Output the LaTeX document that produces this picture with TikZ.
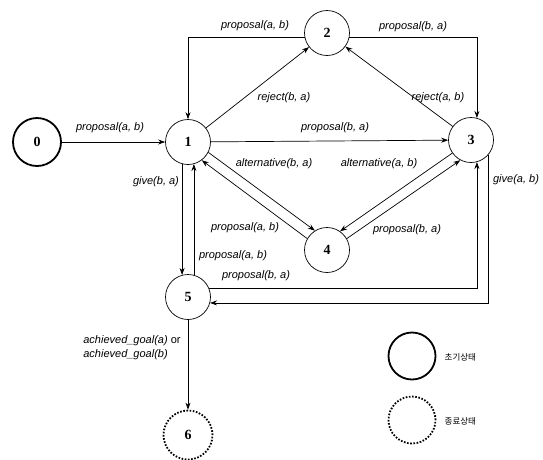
\documentclass[tikz,border=0pt]{standalone}
\usepackage{fontspec}
\setmainfont{Liberation Serif}
\setsansfont{Liberation Sans}
\newfontfamily\krfont{Noto Sans CJK KR}
\usepackage{tikz}
\usetikzlibrary{arrows.meta}

\begin{document}
\begin{tikzpicture}[x=1pt, y=-1pt, line width=0.7pt,
  st/.style={circle, draw, minimum size=45pt, inner sep=0pt, font=\fontsize{14}{14}\selectfont\bfseries},
  init/.style={st, line width=1.8pt, minimum size=48pt},
  final/.style={st, line width=1.8pt, dash pattern=on 1.6pt off 1.6pt, minimum size=49pt},
  lbl/.style={font=\sffamily\itshape\fontsize{11}{14}\selectfont, inner sep=1pt},
  arr/.style={-{Stealth[length=7pt, width=5pt]}}]
  \useasboundingbox (0,0) rectangle (543,459);

  % states
  \node[init] (n0) at (37,142) {0};
  \foreach \nm/\px/\py in {1/188/142, 2/327/33, 3/471/140, 4/327/250, 5/188/297}
    \node[st] (n\nm) at (\px,\py) {\nm};
  \node[final] (n6) at (188,435) {6};

  % transitions
  \draw[arr] (n0) -- (n1);
  \draw[arr] (n2.192) -| (n1.north);
  \draw[arr] (n2.-12) -| (n3.75);
  \draw[arr] (n1) -- (n2);
  \draw[arr] (n3) -- (n2);
  \draw[arr] (n1) -- (n3);
  \draw[arr] (n1.-27) -- (n4.122);
  \draw[arr] (n4.150) -- (n1.-53);
  \draw[arr] (n3.-145) -- (n4.55);
  \draw[arr] (n4.30) -- (n3.-118);
  \draw[arr] (n1.-105) -- (n5.105);
  \draw[arr] (n5.75) -- (n1.-75);
  \draw[arr] (n5.23) -| (n3.-75);
  \draw[arr] (n3.-42) |- (n5.-15);
  \draw[arr] (n5) -- (n6);

  % labels
  \foreach \nm/\px/\py/\txt in {
    la/110/128/{proposal(a, b)},
    lb/255/26/{proposal(a, b)},
    lc/413/27/{proposal(b, a)},
    ld/284/98/{reject(b, a)},
    le/438/98/{reject(a, b)},
    lf/335/128/{proposal(b, a)},
    lg/274/164/{alternative(b, a)},
    lh/379/164/{alternative(a, b)},
    li/156/182/{give(b, a)},
    lj/516/180/{give(a, b)},
    lk/245/228/{proposal(a, b)},
    ll/407/230/{proposal(b, a)},
    lm/233/256/{proposal(a, b)},
    ln/256/276/{proposal(b, a)}
  } \node[lbl] (\nm) at (\px,\py) {\txt};
  \node[lbl, anchor=west, align=left] (lgoal) at (82,348)
    {achieved\_goal(a) \textup{or}\\achieved\_goal(b)};

  % legend
  \node[init, minimum size=47pt] (leg0) at (412,356) {};
  \node[final, minimum size=47pt] (leg6) at (412,420) {};
  \node[anchor=west, font=\krfont\fontsize{8.5}{10}\selectfont] (legi) at (441,357) {초기상태};
  \node[anchor=west, font=\krfont\fontsize{8.5}{10}\selectfont] (legf) at (441,421) {종료상태};
\end{tikzpicture}
\end{document}
